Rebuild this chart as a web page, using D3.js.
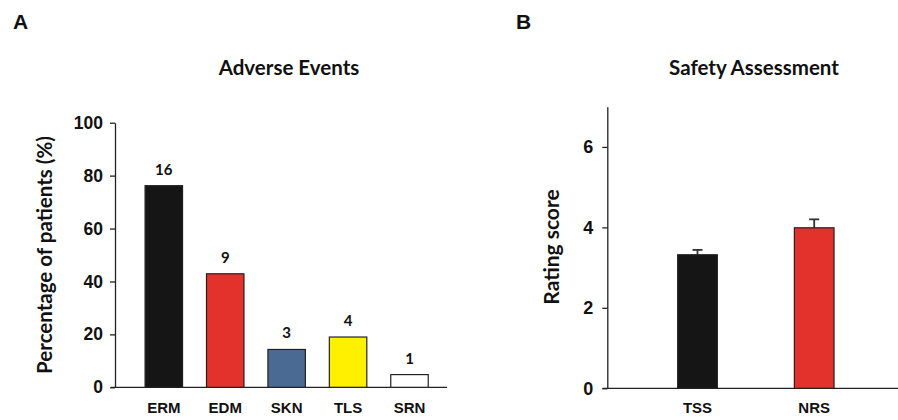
<!DOCTYPE html>
<html>
<head>
<meta charset="utf-8">
<script src="https://cdn.jsdelivr.net/npm/d3@7"></script>
<style>
  body { margin: 0; background: #fff; }
  svg { display: block; }
  .tick text { font-family: "Liberation Sans", Arial, sans-serif; font-weight: bold; fill: #111; }
  .cat { font-family: "Liberation Sans", Arial, sans-serif; font-weight: bold; font-size: 15px; fill: #111; }
  .title, .ytitle, .count { font-family: Lato, "Open Sans", sans-serif; font-weight: bold; fill: #111; }
  .panel { font-family: "Liberation Sans", Arial, sans-serif; font-weight: bold; font-size: 21px; fill: #111; }
</style>
</head>
<body>
<svg></svg>
<script>
var width = 898;
var height = 420;

// Panel A: adverse events (% of 21 patients), count on top
var eventNames = ["ERM", "EDM", "SKN", "TLS", "SRN"];
var eventPct = [76.2, 42.9, 14.3, 19.0, 4.8];
var eventCounts = [16, 9, 3, 4, 1];
var eventColours = ["#151515", "#e3312b", "#4a6a94", "#fff000", "#ffffff"];
var pctTicks = [0, 20, 40, 60, 80, 100];

// Panel B: safety assessment, mean and upper error
var scoreNames = ["TSS", "NRS"];
var scoreMeans = [3.32, 3.99];
var scoreErr = [0.12, 0.21];
var scoreColours = ["#151515", "#e3312b"];
var scoreTicks = [0, 2, 4, 6];

var svg = d3.select("svg").attr("width", width).attr("height", height);

var axisColour = "#222";

// ---------- Panel A ----------
var a = { left: 115, top: 122.7, bottom: 387.3 };

var xA = d3.scaleBand()
  .domain(eventNames)
  .range([133.1, 440.2])
  .paddingInner(0.39)
  .paddingOuter(0.195);

var yA = d3.scaleLinear()
  .domain([0, 100])
  .range([a.bottom, a.top]);

svg.append("text").attr("class", "panel").attr("x", 13).attr("y", 29).text("A");

svg.append("text").attr("class", "title")
  .attr("x", 289).attr("y", 75)
  .attr("text-anchor", "middle")
  .style("font-size", "20.5px")
  .text("Adverse Events");

var yAxisA = svg.append("g")
  .attr("transform", "translate(" + a.left + ",0)")
  .call(d3.axisLeft(yA).tickValues(pctTicks).tickFormat(d3.format("d")).tickSize(5).tickPadding(7).tickSizeOuter(0));
yAxisA.selectAll("text").style("font-size", "17.5px");
yAxisA.selectAll("path, line").attr("stroke", axisColour).attr("stroke-width", 1.3);

svg.append("line")
  .attr("x1", 111).attr("x2", 447)
  .attr("y1", a.bottom).attr("y2", a.bottom)
  .attr("stroke", axisColour).attr("stroke-width", 1.3);

svg.append("text").attr("class", "ytitle")
  .attr("transform", "translate(52," + ((a.top + a.bottom) / 2) + ") rotate(-90)")
  .attr("text-anchor", "middle")
  .style("font-size", "20.5px")
  .text("Percentage of patients (%)");

svg.append("g").selectAll("rect")
  .data(eventNames)
  .enter().append("rect")
  .attr("x", d => xA(d))
  .attr("width", xA.bandwidth())
  .attr("y", (d, i) => yA(eventPct[i]))
  .attr("height", (d, i) => a.bottom - yA(eventPct[i]))
  .attr("fill", (d, i) => eventColours[i])
  .attr("stroke", "#222")
  .attr("stroke-width", 1.2);

svg.append("g").selectAll("text")
  .data(eventNames)
  .enter().append("text")
  .attr("class", "count")
  .attr("x", d => xA(d) + xA.bandwidth() / 2)
  .attr("y", (d, i) => yA(eventPct[i]) - 11)
  .attr("text-anchor", "middle")
  .style("font-size", "15px")
  .text((d, i) => eventCounts[i]);

svg.append("g").selectAll("text")
  .data(eventNames)
  .enter().append("text")
  .attr("class", "cat")
  .attr("x", d => xA(d) + xA.bandwidth() / 2)
  .attr("y", 413)
  .attr("text-anchor", "middle")
  .text(d => d);

// ---------- Panel B ----------
var b = { left: 607.3, top: 106.7, bottom: 388.3 };

var xB = d3.scaleBand()
  .domain(scoreNames)
  .range([639.15, 872.55])
  .paddingInner(0.66)
  .paddingOuter(0.33);

var yB = d3.scaleLinear()
  .domain([0, 7])
  .range([b.bottom, b.top]);

svg.append("text").attr("class", "panel").attr("x", 516).attr("y", 29).text("B");

svg.append("text").attr("class", "title")
  .attr("x", 754).attr("y", 75)
  .attr("text-anchor", "middle")
  .style("font-size", "20.5px")
  .text("Safety Assessment");

var yAxisB = svg.append("g")
  .attr("transform", "translate(" + b.left + ",0)")
  .call(d3.axisLeft(yB).tickValues(scoreTicks).tickFormat(d3.format("d")).tickSize(5).tickPadding(9).tickSizeOuter(0));
yAxisB.selectAll("text").style("font-size", "18px");
yAxisB.selectAll("path, line").attr("stroke", axisColour).attr("stroke-width", 1.3);

svg.append("line")
  .attr("x1", 602.5).attr("x2", 898)
  .attr("y1", b.bottom).attr("y2", b.bottom)
  .attr("stroke", axisColour).attr("stroke-width", 1.3);

svg.append("text").attr("class", "ytitle")
  .attr("transform", "translate(559," + 247 + ") rotate(-90)")
  .attr("text-anchor", "middle")
  .style("font-size", "21px")
  .text("Rating score");

// error bars (upper only), drawn before the bars
var errs = svg.append("g").selectAll("g")
  .data(scoreNames)
  .enter().append("g")
  .attr("stroke", "#333")
  .attr("stroke-width", 1.8);
errs.append("line")
  .attr("x1", d => xB(d) + xB.bandwidth() / 2)
  .attr("x2", d => xB(d) + xB.bandwidth() / 2)
  .attr("y1", (d, i) => yB(scoreMeans[i]))
  .attr("y2", (d, i) => yB(scoreMeans[i] + scoreErr[i]));
errs.append("line")
  .attr("x1", d => xB(d) + xB.bandwidth() / 2 - 5)
  .attr("x2", d => xB(d) + xB.bandwidth() / 2 + 5)
  .attr("y1", (d, i) => yB(scoreMeans[i] + scoreErr[i]))
  .attr("y2", (d, i) => yB(scoreMeans[i] + scoreErr[i]));

svg.append("g").selectAll("rect")
  .data(scoreNames)
  .enter().append("rect")
  .attr("x", d => xB(d))
  .attr("width", xB.bandwidth())
  .attr("y", (d, i) => yB(scoreMeans[i]))
  .attr("height", (d, i) => b.bottom - yB(scoreMeans[i]))
  .attr("fill", (d, i) => scoreColours[i])
  .attr("stroke", "#222")
  .attr("stroke-width", 1.2);

svg.append("g").selectAll("text")
  .data(scoreNames)
  .enter().append("text")
  .attr("class", "cat")
  .attr("x", d => xB(d) + xB.bandwidth() / 2)
  .attr("y", 413)
  .attr("text-anchor", "middle")
  .text(d => d);
</script>
</body>
</html>
